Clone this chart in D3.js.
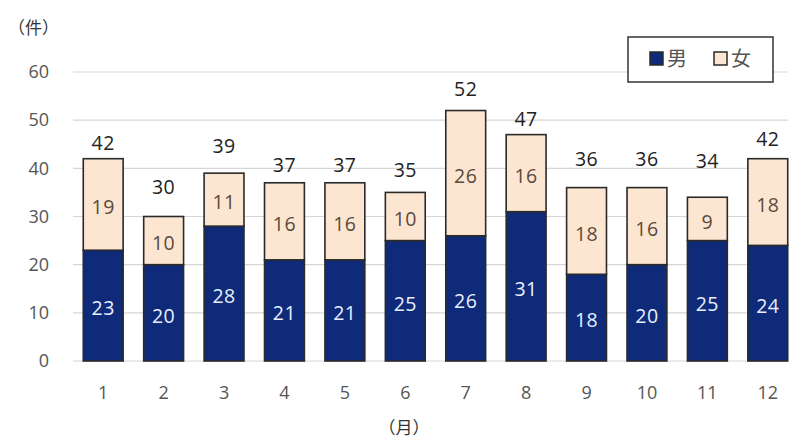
<!DOCTYPE html>
<html>
<head>
<meta charset="utf-8">
<script src="https://cdn.jsdelivr.net/npm/d3@7"></script>
<style>
  html, body { margin: 0; padding: 0; background: #ffffff; }
  svg { display: block; }
</style>
</head>
<body>
<svg id="chart" width="790" height="439"></svg>
<script>
// Monthly counts by sex
const months = ["1", "2", "3", "4", "5", "6", "7", "8", "9", "10", "11", "12"];
const male   = [23, 20, 28, 21, 21, 25, 26, 31, 18, 20, 25, 24];
const female = [19, 10, 11, 16, 16, 10, 26, 16, 18, 16, 9, 18];
const yTicks = [0, 10, 20, 30, 40, 50, 60];
const seriesNames = ["男", "女"];

// how far (px) each total label sits above its bar
const totalLabelLift = [9, 23, 20, 11, 11, 15, 15, 9, 22, 22, 29, 13];

const numFont = "'Open Sans', 'Noto Sans', sans-serif";
const cjkFont = "'Noto Sans CJK JP', sans-serif";
const maleColor = "#0f2a78";
const femaleColor = "#fce6d2";
const edgeColor = "#2a2a2a";

const svg = d3.select("#chart");

const x = d3.scaleBand().domain(months).range([73, 798]).paddingInner(0.34).paddingOuter(0.17);
const y = d3.scaleLinear().domain([0, 60]).range([361, 72]);

// gridlines
svg.append("g")
  .selectAll("line")
  .data(yTicks)
  .join("line")
  .attr("x1", 73).attr("x2", 788)
  .attr("y1", d => y(d)).attr("y2", d => y(d))
  .attr("stroke", "#d6d6d6").attr("stroke-width", 1.2);

// y axis labels
const yAxis = svg.append("g")
  .attr("transform", "translate(49,0)")
  .call(d3.axisLeft(y).tickValues(yTicks).tickSize(0).tickPadding(0));
yAxis.select(".domain").remove();
yAxis.selectAll("text")
  .attr("font-family", numFont).attr("font-size", 18).attr("fill", "#555");

// x axis labels
const xAxis = svg.append("g")
  .attr("transform", "translate(0,386)")
  .call(d3.axisBottom(x).tickSize(0).tickPadding(0));
xAxis.select(".domain").remove();
xAxis.selectAll("text")
  .attr("font-family", numFont).attr("font-size", 18).attr("fill", "#555");

// stacked bars
const rows = months.map((m, i) => ({ m, i, male: male[i], female: female[i] }));
const stack = d3.stack().keys(["male", "female"])(rows);
const colors = { male: maleColor, female: femaleColor };

svg.append("g")
  .selectAll("g")
  .data(stack)
  .join("g")
  .attr("fill", s => colors[s.key])
  .selectAll("rect")
  .data(s => s)
  .join("rect")
  .attr("x", d => x(d.data.m))
  .attr("width", x.bandwidth())
  .attr("y", d => y(d[1]))
  .attr("height", d => y(d[0]) - y(d[1]))
  .attr("stroke", edgeColor)
  .attr("stroke-width", 1.6);

// segment value labels
const labelG = svg.append("g");
stack.forEach(s => {
  labelG.selectAll(null)
    .data(s)
    .join("text")
    .attr("x", d => x(d.data.m) + x.bandwidth() / 2)
    .attr("y", d => (y(d[0]) + y(d[1])) / 2 + 3)
    .attr("dy", "0.35em")
    .attr("text-anchor", "middle")
    .attr("font-family", numFont)
    .attr("font-size", 19.5)
    .attr("letter-spacing", 0.5)
    .attr("fill", s.key === "male" ? "#e8f0ff" : "#5a4a3c")
    .text(d => d.data[s.key]);
});

// totals above bars
svg.append("g")
  .selectAll("text")
  .data(rows)
  .join("text")
  .attr("x", d => x(d.m) + x.bandwidth() / 2)
  .attr("y", d => y(d.male + d.female) - totalLabelLift[d.i])
  .attr("text-anchor", "middle")
  .attr("font-family", numFont)
  .attr("font-size", 19.5)
  .attr("letter-spacing", 0.5)
  .attr("fill", "#222")
  .text(d => d.male + d.female);

// axis titles
svg.append("text")
  .attr("x", 8).attr("y", 34)
  .attr("font-family", cjkFont).attr("font-size", 17).attr("fill", "#333")
  .text("（件）");
svg.append("text")
  .attr("x", 404).attr("y", 434)
  .attr("text-anchor", "middle")
  .attr("font-family", cjkFont).attr("font-size", 17).attr("fill", "#333")
  .text("（月）");

// legend
const legend = svg.append("g");
legend.append("rect")
  .attr("x", 628).attr("y", 37).attr("width", 145).attr("height", 45)
  .attr("fill", "#fff").attr("stroke", "#333").attr("stroke-width", 1.5);
const legendItems = [
  { name: seriesNames[0], color: maleColor, x: 650 },
  { name: seriesNames[1], color: femaleColor, x: 714 }
];
legend.selectAll("rect.sw")
  .data(legendItems)
  .join("rect")
  .attr("class", "sw")
  .attr("x", d => d.x).attr("y", 52).attr("width", 13).attr("height", 13)
  .attr("fill", d => d.color).attr("stroke", edgeColor).attr("stroke-width", 1.5);
legend.selectAll("text")
  .data(legendItems)
  .join("text")
  .attr("x", d => d.x + 17).attr("y", 66)
  .attr("font-family", cjkFont).attr("font-size", 20).attr("fill", "#555")
  .text(d => d.name);
</script>
</body>
</html>
